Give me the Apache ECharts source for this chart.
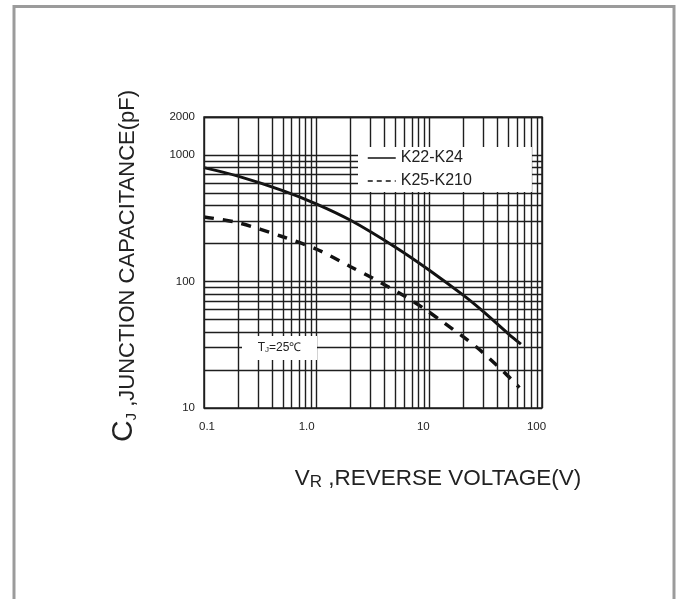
<!DOCTYPE html>
<html>

	<head>
		<meta charset="UTF-8">
		<title>Junction Capacitance</title>
		<script src="https://cdn.jsdelivr.net/npm/echarts@6/dist/echarts.min.js"></script>
		<style type="text/css">
			html,
			body {
				margin: 0;
				padding: 0;
				background: #fff;
			}
			
			#chart {
				width: 678px;
				height: 599px;
			}
		</style>
	</head>

	<body>
		<div id="chart"></div>
	</body>
	<script type="text/javascript">
		// reverse voltage (V) / capacitance (pF)
		var k22Volt = [0.1, 0.2, 0.5, 1.0, 2.0, 5, 10, 20, 30, 50, 65];
		var k22Cap = [796, 682, 524, 410, 305, 187, 123, 78, 58, 38.8, 32];
		var k25Volt = [0.1, 0.2, 0.5, 1.0, 2.0, 3.1, 6.3, 8.9, 13.1, 26, 49, 63];
		var k25Cap = [324, 292, 226, 180, 131, 107, 75, 61.4, 48.1, 30.5, 18.2, 14.5];
		var seriesNames = ["K22-K24", "K25-K210"];
		// grid lines: 1..9 in each decade
		var decadeSteps = [1, 2, 3, 4, 5, 6, 7, 8, 9];
		var xDecades = [0.1, 1, 10];
		var yDecades = [10, 100, 1000];
		var xMax = 100;
		var yMax = 2000;

		var font = "Liberation Sans, Arial, sans-serif";

		function pairs(xs, ys) {
			var out = [];
			for(var i = 0; i < xs.length; i++) {
				out.push([xs[i], ys[i]]);
			}
			return out;
		}

		var gridLines = [];
		xDecades.forEach(function(d) {
			decadeSteps.forEach(function(s) {
				gridLines.push({ xAxis: +(d * s).toPrecision(3) });
			});
		});
		gridLines.push({ xAxis: xMax });
		yDecades.forEach(function(d) {
			decadeSteps.forEach(function(s) {
				gridLines.push({ yAxis: d * s });
			});
		});
		gridLines.push({ yAxis: yMax });

		// x tick labels sit a little left of their lines in the original
		var xLabelPad = {
			"0.1": [0, 0, 0, 6],
			"1": [0, 20, 0, 0],
			"10": [0, 12, 0, 0],
			"100": [0, 11, 0, 0]
		};

		var chart = echarts.init(document.getElementById("chart"));
		var option = {
			animation: false,
			backgroundColor: "#fff",
			grid: {
				left: 204,
				right: 136,
				top: 117,
				bottom: 191,
				show: true,
				borderColor: "#222",
				borderWidth: 1.5,
				backgroundColor: "transparent"
			},
			xAxis: {
				type: "log",
				logBase: 10,
				min: 0.1,
				max: xMax,
				axisLine: { show: false },
				axisTick: { show: false },
				splitLine: { show: false },
				axisLabel: {
					fontSize: 11.5,
					color: "#222",
					fontFamily: font,
					margin: 13,
					formatter: function(v) {
						var key = String(v);
						return "{p" + key.replace(".", "_") + "|" + (v === 1 ? "1.0" : key) + "}";
					},
					rich: {
						p0_1: { padding: xLabelPad["0.1"] },
						p1: { padding: xLabelPad["1"] },
						p10: { padding: xLabelPad["10"] },
						p100: { padding: xLabelPad["100"] }
					}
				}
			},
			yAxis: {
				type: "log",
				logBase: 10,
				min: 10,
				max: yMax,
				axisLine: { show: false },
				axisTick: { show: false },
				splitLine: { show: false },
				axisLabel: {
					fontSize: 11.5,
					color: "#222",
					fontFamily: font,
					margin: 9,
					formatter: function(v) {
						return String(v);
					}
				}
			},
			legend: {
				orient: "vertical",
				left: 358,
				top: 147,
				z: 20,
				backgroundColor: "#fff",
				padding: [3, 60, 3, 9],
				itemGap: 7,
				itemWidth: 28,
				itemHeight: 16,
				textStyle: {
					fontSize: 16,
					lineHeight: 16,
					color: "#222",
					fontFamily: font
				},
				itemStyle: { opacity: 0 },
				lineStyle: { width: 1.5 },
				data: [
					{ name: seriesNames[0] },
					{ name: seriesNames[1], lineStyle: { width: 1.5, type: [5, 4] } }
				]
			},
			graphic: [{
				type: "rect",
				silent: true,
				shape: { x: 14, y: 6.5, width: 660, height: 640 },
				style: { fill: "none", stroke: "#9b9b9b", lineWidth: 3 }
			}, {
				type: "text",
				silent: true,
				x: 124,
				y: 266,
				rotation: Math.PI / 2,
				style: {
					text: "{c|C}{j|J}{t| ,JUNCTION CAPACITANCE(pF)}",
					align: "center",
					verticalAlign: "middle",
					fill: "#222",
					rich: {
						c: { fontSize: 30, fontFamily: font, verticalAlign: "bottom" },
						j: { fontSize: 15, fontFamily: font, verticalAlign: "bottom" },
						t: { fontSize: 22, fontFamily: font, verticalAlign: "bottom" }
					}
				}
			}, {
				type: "text",
				silent: true,
				x: 438,
				y: 479,
				style: {
					text: "{v|V}{r|R}{t| ,REVERSE VOLTAGE(V)}",
					align: "center",
					verticalAlign: "middle",
					fill: "#222",
					rich: {
						v: { fontSize: 22.5, fontFamily: font, verticalAlign: "bottom" },
						r: { fontSize: 17, fontFamily: font, verticalAlign: "bottom" },
						t: { fontSize: 22.5, fontFamily: font, verticalAlign: "bottom" }
					}
				}
			}, {
				type: "rect",
				z: 20,
				silent: true,
				shape: { x: 242, y: 336, width: 75, height: 24 },
				style: { fill: "#fff" }
			}, {
				type: "text",
				z: 21,
				silent: true,
				x: 279.5,
				y: 348,
				style: {
					text: "{t|T}{j|J}{t|=25℃}",
					align: "center",
					verticalAlign: "middle",
					fill: "#222",
					rich: {
						t: { fontSize: 12, fontFamily: font, verticalAlign: "bottom" },
						j: { fontSize: 8, fontFamily: font, verticalAlign: "bottom" }
					}
				}
			}],
			series: [{
				name: "grid",
				type: "line",
				data: [],
				z: 1,
				silent: true,
				markLine: {
					silent: true,
					symbol: ["none", "none"],
					label: { show: false },
					lineStyle: { color: "#1e1e1e", width: 1.4, type: "solid" },
					emphasis: { disabled: true },
					data: gridLines
				}
			}, {
				name: seriesNames[0],
				type: "line",
				z: 3,
				smooth: 0.3,
				symbol: "none",
				lineStyle: { color: "#111", width: 3, type: "solid" },
				itemStyle: { color: "#111" },
				data: pairs(k22Volt, k22Cap)
			}, {
				name: seriesNames[1],
				type: "line",
				z: 3,
				smooth: 0.3,
				symbol: "none",
				lineStyle: { color: "#111", width: 3.5, type: [10, 9] },
				itemStyle: { color: "#111" },
				data: pairs(k25Volt, k25Cap)
			}]
		};
		chart.setOption(option);
	</script>

</html>
